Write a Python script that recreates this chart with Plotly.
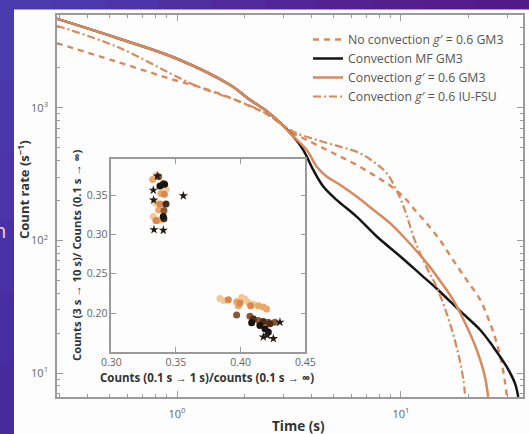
import plotly.graph_objects as go

# ---------------- data ----------------
t_nocon = [0.29, 0.54, 1.0, 1.25, 1.6, 2.0, 2.5, 2.94, 3.19, 3.79, 4.66, 5.34, 6.34, 7.53, 8.64,
           10.25, 11.7, 13.0, 14.9, 17.1, 19.7, 22.6, 25.0, 26.8, 28.2, 29.2, 29.7]
c_nocon = [3076, 2222, 1600, 1440, 1253, 1072, 901, 750, 662, 573, 482, 430, 371, 312, 270,
           214, 165, 135, 101, 71, 50, 35.6, 23.7, 16.7, 11.8, 8.36, 6.6]

t_mf = [0.29, 0.54, 1.0, 1.72, 2.12, 2.47, 2.94, 3.31, 3.66, 4.06, 4.50, 5.16, 6.34, 7.80,
        10.0, 12.3, 14.5, 18.3, 22.6, 25.8, 29.6, 32.3, 33.4]
c_mf = [4700, 3360, 2345, 1493, 1148, 966, 750, 607, 482, 340, 255, 202, 151, 107,
        75, 55, 43, 29.5, 21.1, 15.8, 11.2, 8.36, 6.6]

t_gm3 = [0.29, 0.54, 1.0, 1.72, 2.12, 2.47, 2.94, 3.19, 3.79, 4.2, 4.66, 5.34, 6.34, 7.53,
         8.93, 10.25, 13.0, 14.9, 17.1, 19.7, 21.8, 23.7, 24.5]
c_gm3 = [4700, 3360, 2345, 1493, 1148, 966, 750, 644, 482, 361, 303, 263, 214, 170,
         135, 107, 68, 50, 35.6, 22.3, 14.9, 9.4, 6.6]

t_iufsu = [0.29, 0.54, 1.0, 1.25, 1.6, 2.0, 2.5, 2.94, 3.42, 4.2, 5.34, 6.56, 7.53, 8.64,
           9.9, 10.6, 11.5, 13.0, 14.4, 16.0, 17.4, 18.3, 19.0, 19.3]
c_iufsu = [4160, 2884, 1714, 1440, 1240, 1080, 905, 750, 644, 573, 510, 455, 393, 321,
           210, 155, 101, 63, 44.8, 28.2, 17.7, 12.5, 8.86, 7.0]

series_names = [
    "No convection <i>g</i>′ = 0.6 GM3",
    "Convection MF GM3",
    "Convection <i>g</i>′ = 0.6 GM3",
    "Convection <i>g</i>′ = 0.6 IU-FSU",
]

# inset scatter groups: (x, y)
star_x = [0.3330, 0.3402, 0.3557, 0.3327, 0.3325, 0.3356, 0.4206, 0.4253, 0.4175, 0.4304]
star_y = [0.3061, 0.3053, 0.3492, 0.3437, 0.3563, 0.3742, 0.1716, 0.1675, 0.1695, 0.1883]

black_x = [0.3376, 0.3412, 0.3402, 0.4085, 0.4149, 0.4188, 0.4214]
black_y = [0.3617, 0.3638, 0.3228, 0.1875, 0.1842, 0.1800, 0.1758]

dkbrown_x = [0.3402, 0.3423, 0.3407, 0.4098, 0.4175, 0.4227]
dkbrown_y = [0.3646, 0.3387, 0.3199, 0.1925, 0.1892, 0.1863]

brown_x = [0.3366, 0.3407, 0.3969, 0.4072, 0.4137, 0.4214, 0.4265]
brown_y = [0.3734, 0.3304, 0.1975, 0.1959, 0.1904, 0.1883, 0.1883]

orange_x = [0.3410, 0.3376, 0.3345, 0.3905, 0.3995, 0.4077]
orange_y = [0.3513, 0.3387, 0.3178, 0.2168, 0.2126, 0.2092]

ltorange_x = [0.3320, 0.3384, 0.3366, 0.3356, 0.3969, 0.3982, 0.4137, 0.4175, 0.4201]
ltorange_y = [0.3700, 0.3521, 0.3312, 0.3178, 0.2142, 0.2092, 0.2092, 0.2076, 0.2051]

peach_x = [0.3351, 0.3423, 0.3345, 0.3325, 0.3389, 0.3840, 0.3871, 0.4008, 0.4034, 0.4059, 0.4098]
peach_y = [0.3755, 0.3575, 0.3396, 0.3228, 0.3187, 0.2184, 0.2159, 0.2197, 0.2176, 0.2134, 0.2109]

main_xtick_vals = [1, 10]
main_xtick_text = ["10<sup>0</sup>", "10<sup>1</sup>"]
main_ytick_vals = [10, 100, 1000]
main_ytick_text = ["10<sup>1</sup>", "10<sup>2</sup>", "10<sup>3</sup>"]
inset_xtick_vals = [0.30, 0.35, 0.40, 0.45]
inset_xtick_text = ["0.30", "0.35", "0.40", "0.45"]
inset_ytick_vals = [0.20, 0.25, 0.30, 0.35]
inset_ytick_text = ["0.20", "0.25", "0.30", "0.35"]

# ---------------- style ----------------
ORANGE = "#d98a5c"
BLACK = "#151515"
AX = "#9a9a9a"
FONT = "Open Sans"

fig = go.Figure()

fig.add_trace(go.Scatter(x=t_nocon, y=c_nocon, mode="lines", name=series_names[0],
                         line=dict(color=ORANGE, width=2.4, dash="6px,5px", shape="spline")))
fig.add_trace(go.Scatter(x=t_mf, y=c_mf, mode="lines", name=series_names[1],
                         line=dict(color=BLACK, width=2.5, shape="spline")))
fig.add_trace(go.Scatter(x=t_gm3, y=c_gm3, mode="lines", name=series_names[2],
                         line=dict(color=ORANGE, width=2.5, shape="spline")))
fig.add_trace(go.Scatter(x=t_iufsu, y=c_iufsu, mode="lines", name=series_names[3],
                         line=dict(color=ORANGE, width=2.2, dash="8px,3px,2px,3px", shape="spline")))

def inset(xs, ys, color, symbol="circle", size=7):
    fig.add_trace(go.Scatter(x=xs, y=ys, xaxis="x2", yaxis="y2", mode="markers",
                             showlegend=False,
                             marker=dict(color=color, size=size, symbol=symbol, line=dict(width=0))))

inset(peach_x, peach_y, "#f5c792")
inset(ltorange_x, ltorange_y, "#eea866")
inset(orange_x, orange_y, "#d8884e")
inset(brown_x, brown_y, "#8a5834")
inset(dkbrown_x, dkbrown_y, "#4a2c18")
inset(black_x, black_y, "#1a1410")
inset(star_x, star_y, "#221a14", symbol="star", size=7)

W, H = 529, 434
L, R, T, B = 57, 6, 15, 37
pw, ph = W - L - R, H - T - B

def px(xp):
    return (xp - L) / pw

def py(yp):
    return (H - B - yp) / ph

shapes = []
# background gradient (slide) strips
top_cols = ["#4a3cae", "#4b38aa", "#4d33a5", "#4f2ea0", "#51299b", "#522596", "#532192", "#531e8e", "#521c8b", "#511a88"]
n = len(top_cols)
for i, c in enumerate(top_cols):
    shapes.append(dict(type="rect", xref="paper", yref="paper", layer="below",
                       x0=px(W * i / n), x1=px(W * (i + 1) / n), y0=py(9.5), y1=py(0),
                       fillcolor=c, line=dict(width=0)))
left_cols = ["#4a3cae", "#4a38ab", "#4934a8", "#4831a4", "#472ea0", "#462b9c"]
m = len(left_cols)
for i, c in enumerate(left_cols):
    shapes.append(dict(type="rect", xref="paper", yref="paper", layer="below",
                       x0=px(0), x1=px(14), y0=py(9.5 + (H - 9.5) * (i + 1) / m), y1=py(9.5 + (H - 9.5) * i / m),
                       fillcolor=c, line=dict(width=0)))
shapes.append(dict(type="rect", xref="paper", yref="paper", layer="below",
                   x0=px(14), x1=px(W + 2), y0=py(H + 2), y1=py(9.5),
                   fillcolor="#fdfdfd", line=dict(width=0)))

minor_x = [0.3, 0.4, 0.5, 0.6, 0.7, 0.8, 0.9, 2, 3, 4, 5, 6, 7, 8, 9, 20, 30]
minor_y = [7, 8, 9, 20, 30, 40, 50, 60, 70, 80, 90, 200, 300, 400, 500, 600, 700, 800, 900, 2000, 3000, 4000, 5000]

tickfont = dict(family=FONT, size=11, color="#666666")
itickfont = dict(family=FONT, size=10.5, color="#666666")

fig.update_layout(
    width=W, height=H, autosize=False,
    margin=dict(l=L, r=R, t=T, b=B, autoexpand=False),
    paper_bgcolor="#4b38aa",
    plot_bgcolor="rgba(0,0,0,0)",
    showlegend=True,
    legend=dict(x=px(308), y=py(25), xanchor="left", yanchor="top",
                font=dict(family=FONT, size=12.3, color="#555555"),
                bgcolor="rgba(0,0,0,0)", borderwidth=0, tracegroupgap=0,
                itemwidth=30),
    xaxis=dict(type="log", range=[-0.536, 1.545], domain=[0, 1], automargin=False,
               showline=True, linecolor=AX, linewidth=1.5, mirror="ticks",
               ticks="inside", ticklen=6, tickwidth=1, tickcolor=AX,
               tickvals=main_xtick_vals, ticktext=main_xtick_text,
               tickfont=tickfont, ticklabelstandoff=6,
               minor=dict(ticks="inside", ticklen=3, tickcolor=AX, tickvals=minor_x, showgrid=False),
               showgrid=False, zeroline=False),
    yaxis=dict(type="log", range=[0.819, 3.70], domain=[0, 1], automargin=False,
               showline=True, linecolor=AX, linewidth=1.5, mirror="ticks",
               ticks="inside", ticklen=6, tickwidth=1, tickcolor=AX,
               tickvals=main_ytick_vals, ticktext=main_ytick_text,
               tickfont=tickfont, ticklabelstandoff=5,
               minor=dict(ticks="inside", ticklen=3, tickcolor=AX, tickvals=minor_y, showgrid=False),
               showgrid=False, zeroline=False),
    xaxis2=dict(domain=[px(111.3), px(305.3)], anchor="y2", range=[0.30, 0.45], automargin=False,
                showline=True, linecolor=AX, linewidth=1.5, mirror="ticks",
                ticks="inside", ticklen=5, tickcolor=AX,
                tickvals=inset_xtick_vals, ticktext=inset_xtick_text,
                tickfont=itickfont, showgrid=False, zeroline=False),
    yaxis2=dict(domain=[py(352), py(159)], anchor="x2", range=[0.1504, 0.396], automargin=False,
                showline=True, linecolor=AX, linewidth=1.5, mirror="ticks",
                ticks="inside", ticklen=5, tickcolor=AX,
                tickvals=inset_ytick_vals, ticktext=inset_ytick_text,
                tickfont=itickfont, showgrid=False, zeroline=False),
    shapes=shapes,
    annotations=[
        dict(text="<b>Time (s)</b>", xref="paper", yref="paper", x=px(298), y=py(426),
             showarrow=False, font=dict(family=FONT, size=13.5, color="#333333"),
             xanchor="center", yanchor="middle"),
        dict(text="<b>Count rate (s<sup>−1</sup>)</b>", xref="paper", yref="paper", x=px(24), y=py(190),
             showarrow=False, textangle=-90, font=dict(family=FONT, size=13, color="#333333"),
             xanchor="center", yanchor="middle"),
        dict(text="<b>Counts (0.1 s → 1 s)/counts (0.1 s → ∞)</b>", xref="paper", yref="paper",
             x=px(207), y=py(377), showarrow=False,
             font=dict(family=FONT, size=11.5, color="#333333"), xanchor="center", yanchor="middle"),
        dict(text="<b>Counts (3 s → 10 s)/ Counts (0.1 s → ∞)</b>", xref="paper", yref="paper",
             x=px(76), y=py(255), showarrow=False, textangle=-90,
             font=dict(family=FONT, size=11.3, color="#333333"), xanchor="center", yanchor="middle"),
        dict(text="n", xref="paper", yref="paper", x=px(8), y=py(230), showarrow=False,
             font=dict(family=FONT, size=20, color="#f3d2ee"), xanchor="right", yanchor="middle"),
    ],
)

fig.write_html("out.html")
